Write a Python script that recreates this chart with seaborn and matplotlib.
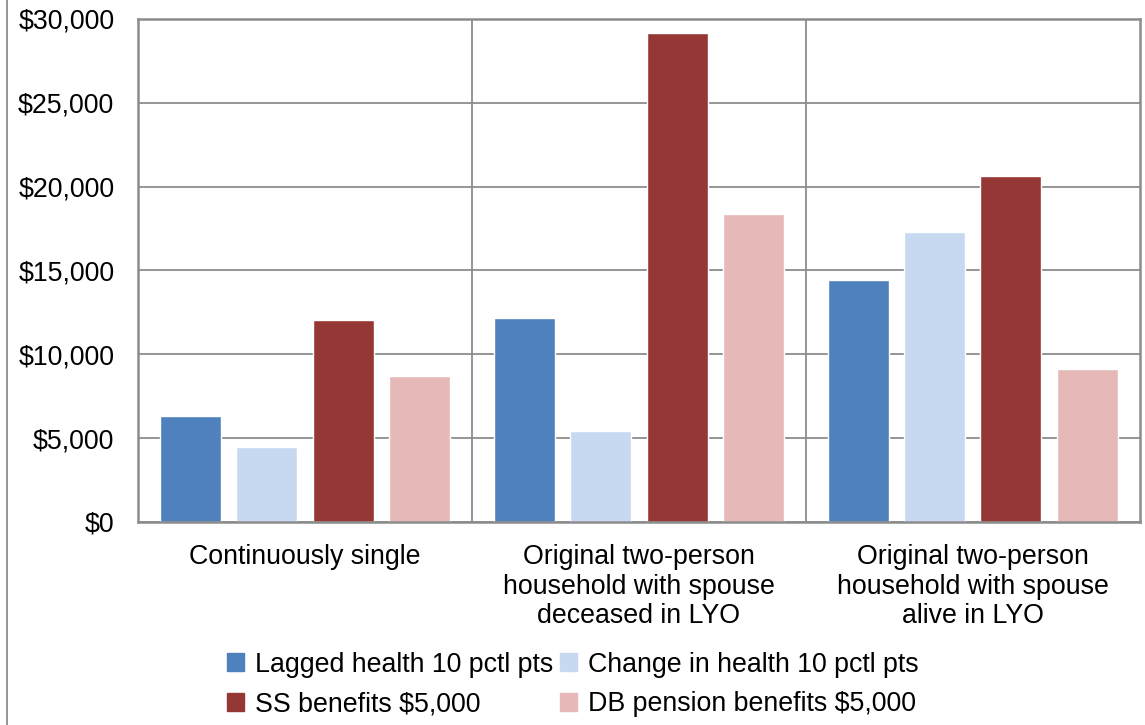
import matplotlib
matplotlib.use("Agg")
import matplotlib.pyplot as plt
import seaborn as sns
import pandas as pd
from matplotlib.lines import Line2D
from matplotlib.ticker import FuncFormatter

# data
groups = [
    "Continuously single",
    "Original two-person\nhousehold with spouse\ndeceased in LYO",
    "Original two-person\nhousehold with spouse\nalive in LYO",
]
series = [
    "Lagged health 10 pctl pts",
    "Change in health 10 pctl pts",
    "SS benefits $5,000",
    "DB pension benefits $5,000",
]
lagged_health = [6350, 12150, 14450]
change_health = [4480, 5420, 17300]
ss_benefits = [12050, 29150, 20650]
db_pension = [8720, 18350, 9130]
colors = ["#4F81BD", "#C6D9F1", "#953735", "#E6B9B8"]

rows = []
for name, vals in zip(series, [lagged_health, change_health, ss_benefits, db_pension]):
    for g, v in zip(groups, vals):
        rows.append({"group": g, "series": name, "value": v})
df = pd.DataFrame(rows)

sns.set_style("white")
plt.rcParams["font.family"] = ["Liberation Sans", "DejaVu Sans"]

fig = plt.figure(figsize=(11.45, 7.25), dpi=100)
ax = fig.add_axes([0.1205, 0.28, 0.875, 0.6938])

sns.barplot(data=df, x="group", y="value", hue="series", order=groups,
            hue_order=series, palette=colors, width=0.913, gap=0.2,
            saturation=1, errorbar=None, ax=ax, legend=False)

ax.set_ylim(0, 30000)
ax.set_xlim(-0.5, 2.5)
ax.set_yticks(range(0, 30001, 5000))
ax.yaxis.set_major_formatter(FuncFormatter(lambda v, p: f"${v:,.0f}"))
ax.grid(axis="y", color="#8C8C8C", linewidth=1.3)
ax.set_axisbelow(True)
for x in [0.5, 1.5]:
    ax.axvline(x, color="#8C8C8C", linewidth=1.3)
for s in ax.spines.values():
    s.set_color("#8C8C8C")
    s.set_linewidth(1.8)
ax.tick_params(axis="both", length=0, labelsize=19.3, colors="black")
ax.tick_params(axis="y", pad=17)
ax.tick_params(axis="x", pad=16)
for t in ax.get_xticklabels():
    t.set_linespacing(1.18)
ax.set_xlabel("")
ax.set_ylabel("")

# legend fills column-wise, so order handles to get rows like the reference
order = [0, 2, 1, 3]
handles = [plt.Rectangle((0, 0), 1, 1, color=colors[i]) for i in order]
labels = [series[i] for i in order]
fig.legend(handles, labels, loc="upper center", bbox_to_anchor=(0.5, 0.116),
           ncol=2, frameon=False, fontsize=19.3, handlelength=0.65,
           handleheight=0.65, handletextpad=0.4, columnspacing=0.25,
           labelspacing=0.5, borderaxespad=0, labelcolor="black")

fig.add_artist(Line2D([0.0065, 0.0065], [0, 1], color="#8C8C8C", linewidth=1.3,
                      transform=fig.transFigure))

fig.savefig("out.png", dpi=100)
